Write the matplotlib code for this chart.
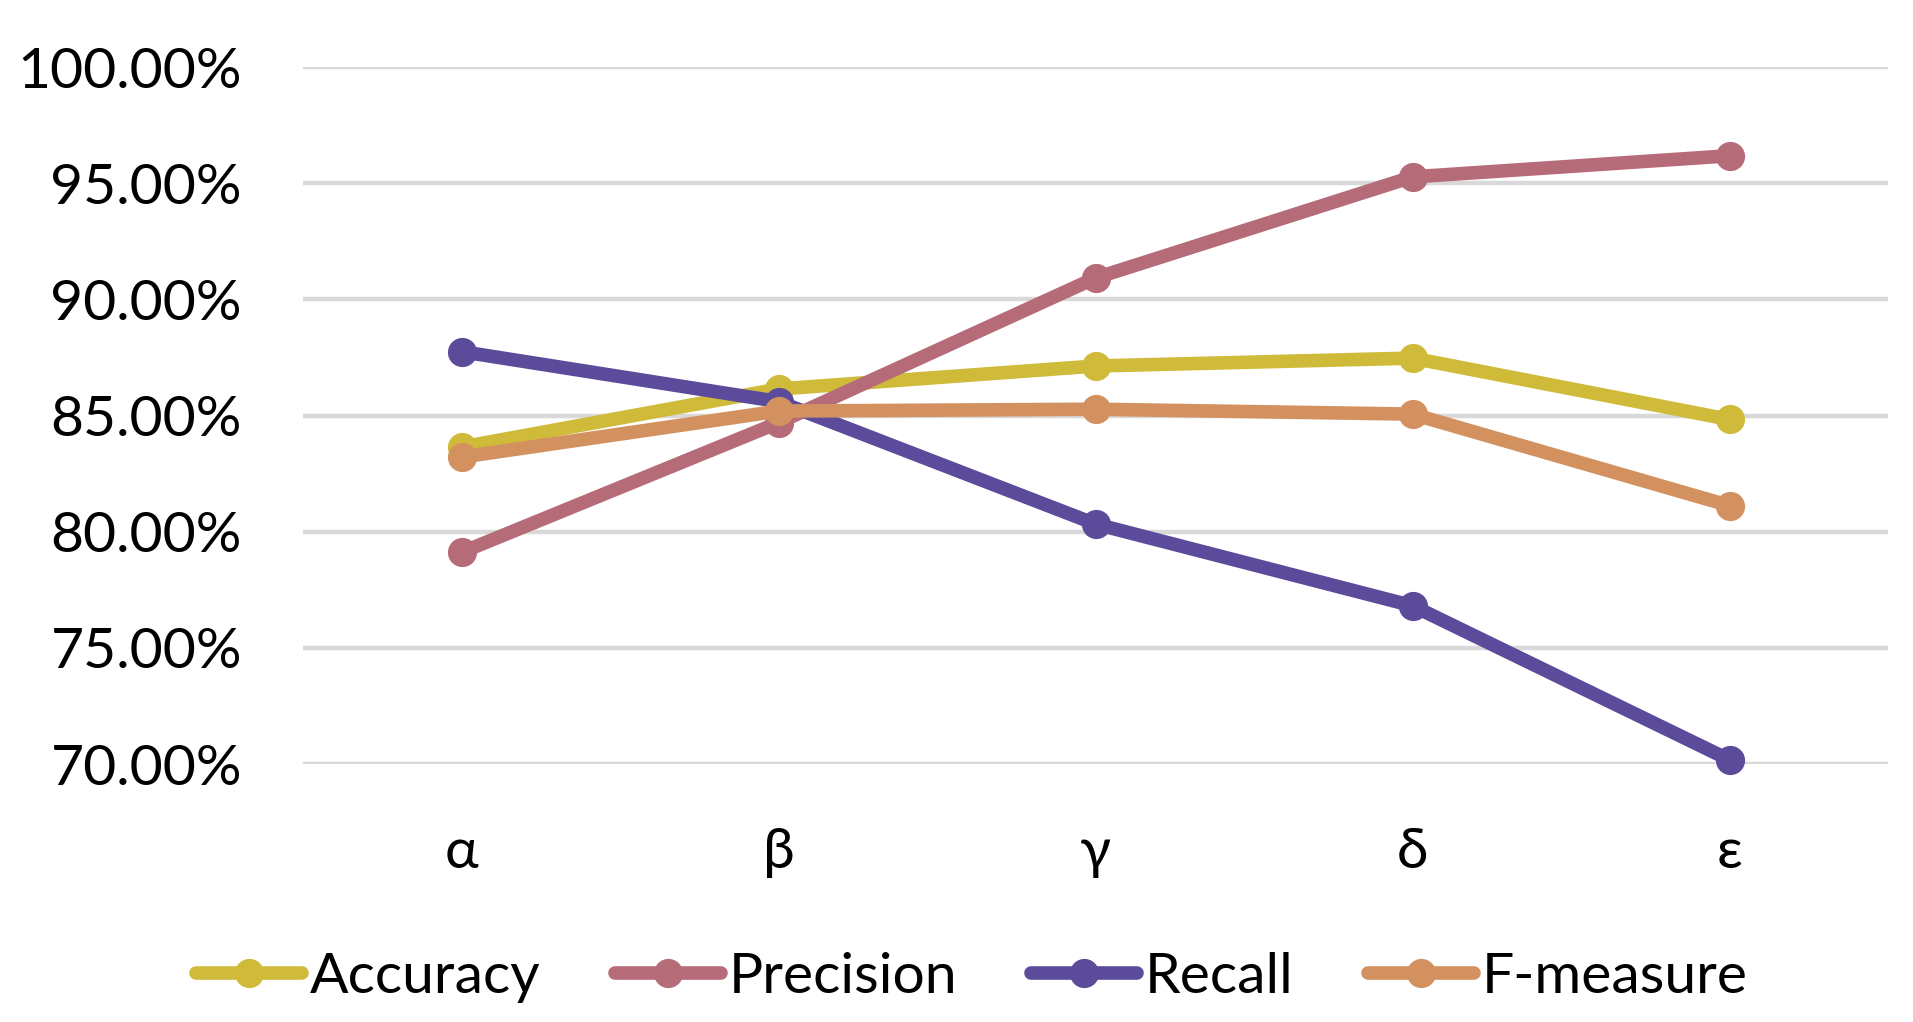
import matplotlib
matplotlib.use("Agg")
import matplotlib.pyplot as plt
from matplotlib.ticker import PercentFormatter

plt.rcParams['font.family'] = ['Lato', 'Open Sans', 'DejaVu Sans']

categories = ['α', 'β', 'γ', 'δ', 'ε']
accuracy = [83.64, 86.14, 87.13, 87.47, 84.83]
precision = [79.11, 84.69, 90.92, 95.27, 96.18]
recall = [87.75, 85.60, 80.33, 76.81, 70.18]
f_measure = [83.21, 85.19, 85.27, 85.06, 81.12]
y_ticks = [70, 75, 80, 85, 90, 95, 100]

series = [
    ('Accuracy', accuracy, '#CFBA3A'),
    ('Precision', precision, '#B66B79'),
    ('Recall', recall, '#5B4B9A'),
    ('F-measure', f_measure, '#D3915F'),
]

W, H = 1913, 1022
fig = plt.figure(figsize=(W / 100, H / 100), dpi=100)
ax = fig.add_axes([303 / W, 1 - 764 / H, (1888 - 303) / W, (764 - 67) / H])

x = list(range(len(categories)))
for name, vals, col in series:
    ax.plot(x, vals, color=col, lw=9.8, marker='o', ms=20, label=name,
            solid_capstyle='round', solid_joinstyle='round', clip_on=False, zorder=3)

ax.set_xlim(-0.5, len(categories) - 0.5)
ax.set_ylim(70, 100)
ax.set_yticks(y_ticks)
ax.yaxis.set_major_formatter(PercentFormatter(decimals=2))
ax.set_xticks(x)
ax.set_xticklabels(categories)
ax.grid(axis='y', color='#D9D9D9', lw=3.2, zorder=0)
ax.set_axisbelow(True)
for s in ax.spines.values():
    s.set_visible(False)
ax.tick_params(axis='both', length=0, labelsize=41, colors='black')
ax.tick_params(axis='y', pad=44)
ax.tick_params(axis='x', pad=45)

leg = fig.legend(loc='center', bbox_to_anchor=(972 / W, 1 - 977 / H), ncol=4,
                 frameon=False, fontsize=41, handlelength=1.86, handletextpad=0.14,
                 columnspacing=1.3, borderaxespad=0)
for h in leg.legend_handles:
    h.set_markersize(20)

fig.savefig('out.png', dpi=100, facecolor='white')
